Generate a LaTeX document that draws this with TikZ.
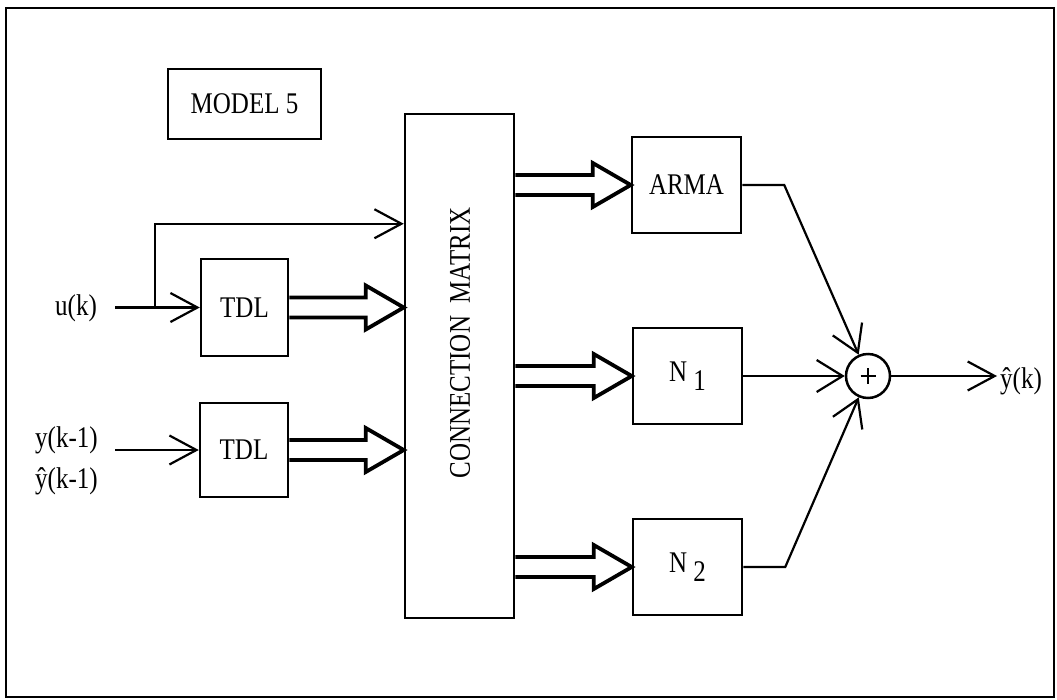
\documentclass[tikz,border=0pt]{standalone}
\usepackage{fontspec}
\usepackage{graphicx}
\setmainfont{Liberation Serif}
\usetikzlibrary{arrows.meta,calc}
\newcommand\fs{\fontsize{25}{30}\selectfont}
\newcommand\tx[1]{\scalebox{1}[1.2]{#1}}
\newcommand\hollowarr[2]{%
  \draw[hol] ($(#1)+(0,-10)$) -- ($(#2)+(-38,-10)$) -- ($(#2)+(-38,-22)$) -- (#2)
    -- ($(#2)+(-38,22)$) -- ($(#2)+(-38,10)$) -- ($(#1)+(0,10)$);}
\begin{document}
\begin{tikzpicture}[x=1pt,y=-1pt,
  blk/.style={draw, line width=2.5pt, inner sep=0pt, font=\fs},
  lbl/.style={font=\fs, inner sep=0pt},
  thn/.style={line width=2.2pt, -{Straight Barb[length=27pt,width=29pt,line width=2.2pt]}},
  sumin/.style={line width=2.2pt, -{Straight Barb[length=26pt,width=32pt,line width=2.2pt]}},
  hol/.style={line width=3.8pt, line join=miter},
  frm/.style={line width=2.2pt}]
\fill[white] (0,0) rectangle (1057,699);
\useasboundingbox (0,0) rectangle (1057,699);
\draw[frm] (6,8) rectangle (1054,697);

\node[blk, minimum width=153pt, minimum height=70pt] (model) at (244.5,104) {\tx{MODEL 5}};
\node[blk, minimum width=109pt, minimum height=504pt] (cm) at (459.5,366) {};
\node[lbl, rotate=90] (cmtext) at (460,343) {\tx{CONNECTION\ \ MATRIX}};
\node[blk, minimum width=87pt, minimum height=97pt] (tdla) at (244.5,307.5) {\tx{TDL}};
\node[blk, minimum width=88pt, minimum height=94pt] (tdlb) at (244,450) {\tx{TDL}};
\node[blk, minimum width=109pt, minimum height=96pt] (arma) at (686.5,185) {\tx{ARMA}};
\node[blk, minimum width=109pt, minimum height=96pt] (na) at (687.5,376) {\tx{N\hspace{6pt}\raisebox{-8pt}{1}}};
\node[blk, minimum width=109pt, minimum height=96pt] (nb) at (687.5,567) {\tx{N\hspace{6pt}\raisebox{-8pt}{2}}};
\node[draw, circle, line width=2.5pt, minimum size=44pt, inner sep=0pt] (sum) at (868,376) {};
\draw[line width=2.6pt] ($(sum)+(-7.5,0)$) -- ($(sum)+(7.5,0)$) ($(sum)+(0,-8)$) -- ($(sum)+(0,8)$);

\node[lbl, anchor=base west] (u) at (55,315) {\tx{u(k)}};
\node[lbl, anchor=base west] (ya) at (35,447) {\tx{y(k-1)}};
\node[lbl, anchor=base west] (yb) at (35,488) {\tx{\^{y}(k-1)}};
\node[lbl, anchor=base west] (yout) at (1000,388) {\tx{\^{y}(k)}};

\coordinate (ustart) at (115,307.5);
\coordinate (br) at (155,307.5);
\coordinate (ystart) at (115,450);
\coordinate (cmtop) at ($(cm.north west)+(0,111)$);
\coordinate (ka) at ($(arma.east)+(42,0)$);
\coordinate (kb) at ($(nb.east)+(42,0)$);
\coordinate (outend) at (997,376);

\draw[thn] (ustart) -- (tdla.west);
\draw[thn] (br) |- (cmtop);
\draw[thn] (ystart) -- (tdlb.west);

\path (cm.west |- tdla.east) coordinate (cma);
\path (cm.west |- tdlb.east) coordinate (cmb);
\path (cm.east |- arma.west) coordinate (cmc);
\path (cm.east |- na.west) coordinate (cmd);
\path (cm.east |- nb.west) coordinate (cme);
\hollowarr{tdla.east}{cma}
\hollowarr{tdlb.east}{cmb}
\hollowarr{cmc}{arma.west}
\hollowarr{cmd}{na.west}
\hollowarr{cme}{nb.west}

\draw[sumin] (arma.east) -- (ka) -- (sum);
\draw[sumin] (na.east) -- (sum.west);
\draw[sumin] (nb.east) -- (kb) -- (sum);
\draw[thn] (sum.east) -- (outend);
\end{tikzpicture}
\end{document}
